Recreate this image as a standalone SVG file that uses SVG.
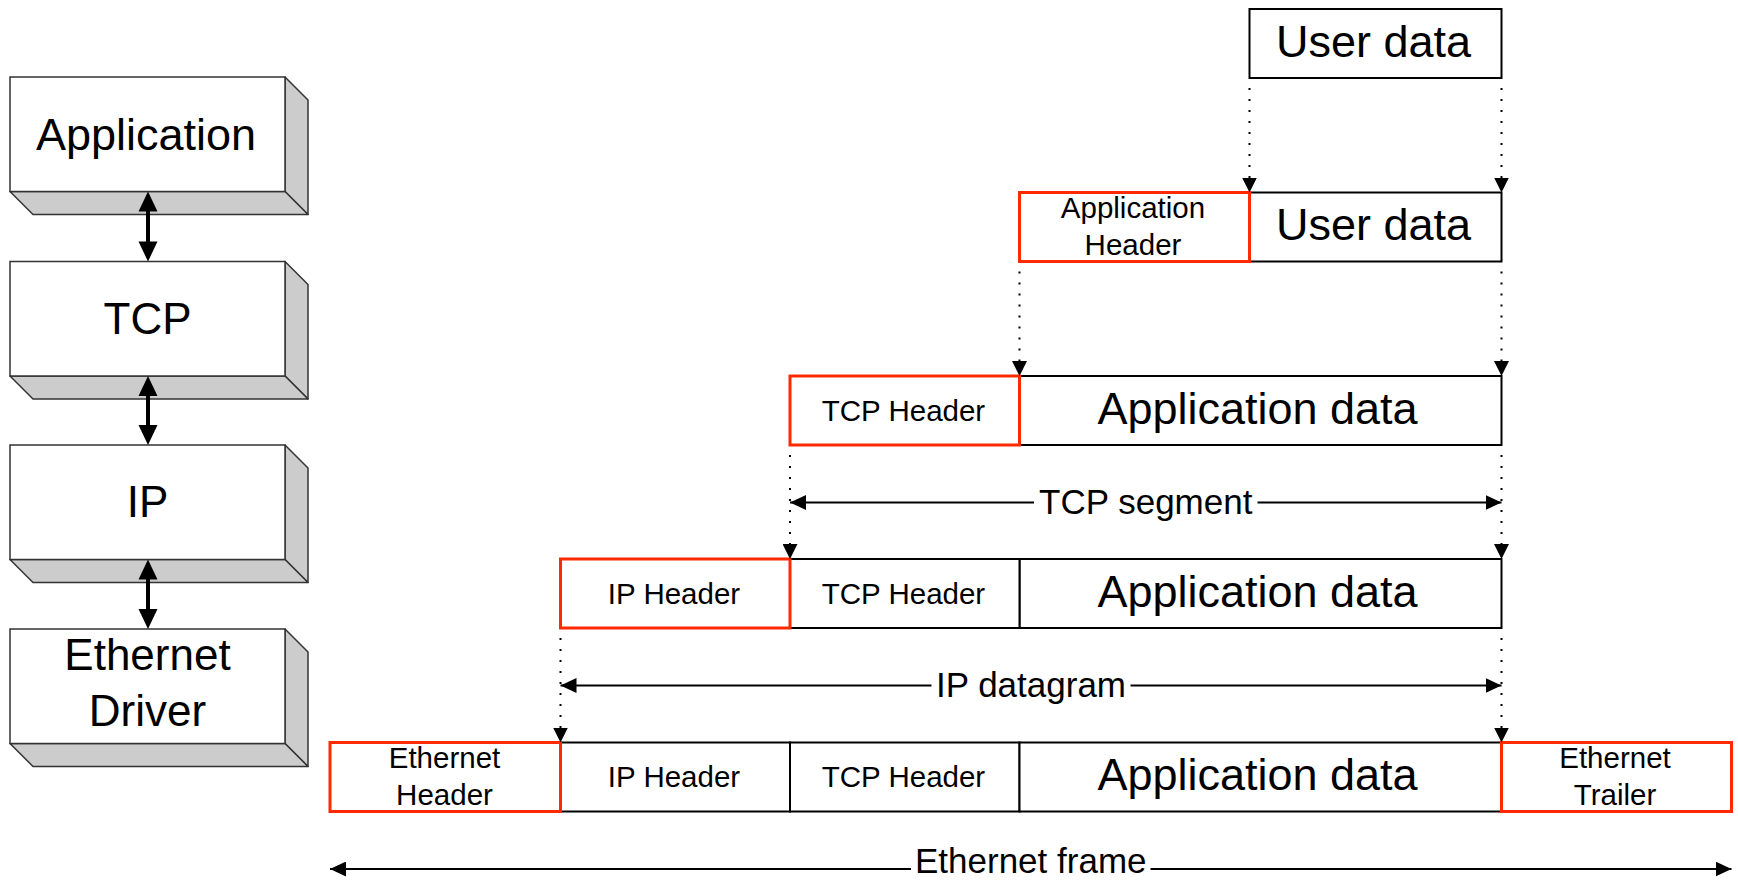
<svg xmlns="http://www.w3.org/2000/svg" width="1738" height="881" viewBox="0 0 1738 881">
<style>
text{font-family:"Liberation Sans",Arial,sans-serif;fill:#000;text-anchor:middle}
.lbl{font-size:44px}
.big{font-size:45px}
.small{font-size:29.5px}
.dim{font-size:35px}
.front{fill:#fff;stroke:#333;stroke-width:1.5}
.side{fill:#ccc;stroke:#333;stroke-width:1.5;stroke-linejoin:round}
.cell{fill:#fff;stroke:#000;stroke-width:2}
.hdr{fill:none;stroke:#ff2a00;stroke-width:3}
.dot{stroke:#000;stroke-width:2;stroke-dasharray:2 9;fill:none}
.dl{stroke:#000;stroke-width:2;fill:none}
.head{fill:#000;stroke:none}
</style>
<defs>
<marker id="ah" viewBox="0 0 16 15" refX="16" refY="7.5" markerWidth="16" markerHeight="15" markerUnits="userSpaceOnUse" orient="auto">
<path class="head" d="M0,0 L16,7.5 L0,15 Z"/>
</marker>
<marker id="dh" viewBox="0 0 15 15" refX="15" refY="7.5" markerWidth="15" markerHeight="15" markerUnits="userSpaceOnUse" orient="auto">
<path class="head" d="M0,0 L15,7.5 L0,15 Z"/>
</marker>
</defs>

<!-- Protocol stack -->
<g id="layer-application">
<polygon class="side" points="285,77 308,100 308,214.5 285,191.5"/>
<polygon class="side" points="10,191.5 285,191.5 308,214.5 33,214.5"/>
<rect class="front" x="10" y="77" width="275" height="114.5"/>
<text class="lbl" x="146" y="149.5" style="font-size:45px">Application</text>
</g>
<g id="layer-tcp">
<polygon class="side" points="285,261.5 308,284.5 308,399 285,376"/>
<polygon class="side" points="10,376 285,376 308,399 33,399"/>
<rect class="front" x="10" y="261.5" width="275" height="114.5"/>
<text class="lbl" x="147.5" y="334">TCP</text>
</g>
<g id="layer-ip">
<polygon class="side" points="285,445 308,468 308,582.5 285,559.5"/>
<polygon class="side" points="10,559.5 285,559.5 308,582.5 33,582.5"/>
<rect class="front" x="10" y="445" width="275" height="114.5"/>
<text class="lbl" x="147.5" y="516.5">IP</text>
</g>
<g id="layer-ethernet">
<polygon class="side" points="285,629 308,652 308,766.5 285,743.5"/>
<polygon class="side" points="10,743.5 285,743.5 308,766.5 33,766.5"/>
<rect class="front" x="10" y="629" width="275" height="114.5"/>
<text class="lbl" x="147.5" y="670">Ethernet</text>
<text class="lbl" x="147.5" y="725.5">Driver</text>
</g>

<!-- Row 1 -->
<g id="r1-user-data">
<rect class="cell" x="1249.5" y="9" width="252" height="69"/>
<text class="big" x="1373.5" y="56.5">User data</text>
</g>

<!-- Row 2 -->
<g id="r2-user-data">
<rect class="cell" x="1249.5" y="192.5" width="252" height="69"/>
<text class="big" x="1373.5" y="240">User data</text>
</g>
<g id="r2-app-header">
<rect class="hdr" x="1019.5" y="192.5" width="230" height="69"/>
<text class="small" x="1133" y="218">Application</text>
<text class="small" x="1133" y="254.5">Header</text>
</g>

<!-- Row 3 -->
<g id="r3-app-data">
<rect class="cell" x="1019.5" y="376" width="482" height="69"/>
<text class="big" x="1257.5" y="423.5">Application data</text>
</g>
<g id="r3-tcp-header">
<rect class="hdr" x="790" y="376" width="229.5" height="69"/>
<text class="small" x="903.5" y="420.5">TCP Header</text>
</g>

<!-- Row 4 -->
<g id="r4-app-data">
<rect class="cell" x="1019.5" y="559" width="482" height="69"/>
<text class="big" x="1257.5" y="606.5">Application data</text>
</g>
<g id="r4-tcp-header">
<rect class="cell" x="790" y="559" width="229.5" height="69"/>
<text class="small" x="903.5" y="603.5">TCP Header</text>
</g>
<g id="r4-ip-header">
<rect class="hdr" x="560.5" y="559" width="229.5" height="69"/>
<text class="small" x="674" y="603.5">IP Header</text>
</g>

<!-- Row 5 -->
<g id="r5-ip-header">
<rect class="cell" x="560.5" y="742.5" width="229.5" height="69"/>
<text class="small" x="674" y="787">IP Header</text>
</g>
<g id="r5-tcp-header">
<rect class="cell" x="790" y="742.5" width="229.5" height="69"/>
<text class="small" x="903.5" y="787">TCP Header</text>
</g>
<g id="r5-app-data">
<rect class="cell" x="1019.5" y="742.5" width="482" height="69"/>
<text class="big" x="1257.5" y="790">Application data</text>
</g>
<g id="r5-eth-header">
<rect class="hdr" x="330" y="742.5" width="230.5" height="69"/>
<text class="small" x="444.5" y="768">Ethernet</text>
<text class="small" x="444.5" y="804.5">Header</text>
</g>
<g id="r5-eth-trailer">
<rect class="hdr" x="1501.5" y="742.5" width="230" height="69"/>
<text class="small" x="1615" y="768">Ethernet</text>
<text class="small" x="1615" y="804.5">Trailer</text>
</g>

<!-- Connectors -->
<g id="connectors">
<g class="stack-arrows">
<line x1="148" y1="208" x2="148" y2="245" stroke="#000" stroke-width="4"/>
<polygon class="head" points="148,191.5 157.5,211.5 138.5,211.5"/>
<polygon class="head" points="148,261.5 157.5,241.5 138.5,241.5"/>
<line x1="148" y1="392.5" x2="148" y2="429" stroke="#000" stroke-width="4"/>
<polygon class="head" points="148,376 157.5,396 138.5,396"/>
<polygon class="head" points="148,445 157.5,425 138.5,425"/>
<line x1="148" y1="576" x2="148" y2="612.5" stroke="#000" stroke-width="4"/>
<polygon class="head" points="148,559.5 157.5,579.5 138.5,579.5"/>
<polygon class="head" points="148,629 157.5,609 138.5,609"/>
</g>
<line class="dot" x1="1249.5" y1="88" x2="1249.5" y2="192.5" marker-end="url(#dh)"/>
<line class="dot" x1="1501.5" y1="88" x2="1501.5" y2="192.5" marker-end="url(#dh)"/>
<line class="dot" x1="1019.5" y1="271.5" x2="1019.5" y2="376" marker-end="url(#dh)"/>
<line class="dot" x1="1501.5" y1="271.5" x2="1501.5" y2="376" marker-end="url(#dh)"/>
<line class="dot" x1="790" y1="455" x2="790" y2="559" marker-end="url(#dh)"/>
<line class="dot" x1="1501.5" y1="455" x2="1501.5" y2="559" marker-end="url(#dh)"/>
<line class="dot" x1="560.5" y1="638" x2="560.5" y2="742.5" marker-end="url(#dh)"/>
<line class="dot" x1="1501.5" y1="638" x2="1501.5" y2="742.5" marker-end="url(#dh)"/>
<line class="dl" x1="1034" y1="502.5" x2="790" y2="502.5" marker-end="url(#ah)"/>
<line class="dl" x1="1257.5" y1="502.5" x2="1501.5" y2="502.5" marker-end="url(#ah)"/>
<text class="dim" x="1145.75" y="514">TCP segment</text>
<line class="dl" x1="931.5" y1="685.5" x2="560.5" y2="685.5" marker-end="url(#ah)"/>
<line class="dl" x1="1130.5" y1="685.5" x2="1501.5" y2="685.5" marker-end="url(#ah)"/>
<text class="dim" x="1031" y="697">IP datagram</text>
<line class="dl" x1="911" y1="869" x2="330" y2="869" marker-end="url(#ah)"/>
<line class="dl" x1="1150.5" y1="869" x2="1731.5" y2="869" marker-end="url(#ah)"/>
<text class="dim" x="1030.75" y="873">Ethernet frame</text>
</g>
</svg>
